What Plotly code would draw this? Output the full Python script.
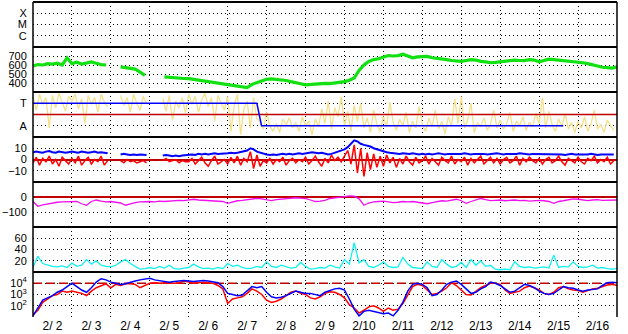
import plotly.graph_objects as go
from plotly.subplots import make_subplots

# ---------------- data ----------------
DAY_LABELS = ["2/ 2", "2/ 3", "2/ 4", "2/ 5", "2/ 6", "2/ 7", "2/ 8", "2/ 9",
              "2/10", "2/11", "2/12", "2/13", "2/14", "2/15", "2/16"]
XRAY_LABELS = ["C", "M", "X"]

# time grids in days since 2/2 00:00
t3 = [i * 0.125 for i in range(121)]      # 3-hourly
t2 = [i / 12 for i in range(180)]          # 2-hourly

speed = [590, 605, 600, 615, 610, 620, 600, 680,
         615, 630, 610, 625, 635, 620, 605, 600,
         None, None, 580, 570, 565, 555, 520, 485,
         None, None, None, 468, 462, 458, 455, 450,
         448, 440, 432, 425, 418, 405, 398, 390,
         380, 378, 372, 365, 350, 385, 405, 425,
         442, 445, 440, 435, 428, 415, 400, 392,
         380, 385, 390, 392, 395, 393, 400, 410,
         415, 430, 455, 540, 600, 640, 660, 670,
         690, 705, 700, 705, 720, 700, 680, 690,
         690, 695, 680, 675, 665, 660, 650, 645,
         640, 650, 660, 655, 640, 635, 625, 630,
         635, 640, 645, 655, 650, 648, 660, 655,
         635, 650, 665, 660, 655, 650, 645, 640,
         630, 625, 615, 600, 590, 575, 570, 565,
         580]

sector = [1.6, 0.4, 1.8, 0.9, 1.5, -1.2, 1.7, 0.6, 1.9, 1.0, 0.3, 1.6,
          1.2, 1.8, 0.5, 1.4, -0.8, 1.7, 0.9, 1.5, 0.2, 1.8, 1.1, 0.7,
          None, None, None,
          1.7, 0.8, 1.5, 0.2, 1.8, 1.0, 0.4, 1.6, 0.9,
          None, None, None, None,
          1.4, 0.3, 1.7, -0.5, 1.2, 0.6, 1.5, 0.1,
          1.8, 0.9, 1.6, 0.2, 1.3, 1.9, 0.7, 1.5, -0.6, 1.7, 1.0, 0.4,
          1.6, -1.5, 0.8, 1.8, -1.8, 0.5, 1.2, -1.2, 1.5, -0.4,
          -0.6, -1.3, 0.2, -1.0, -1.5, -0.8, -1.6, -0.4,
          -0.9, -0.3, -1.2, -0.7, -1.5, -0.2, -1.0, -0.6, -1.8, -0.4, -1.1, 0.5,
          -0.8, 1.2, -1.3, 0.6, -0.2, 1.6, -1.0, 0.3, -1.5, 0.8, -0.6, 1.0,
          -1.2, -0.3, -1.6, 0.4, -0.9, -1.5, -0.2, -1.1, 1.1, -0.7, -1.4, -0.4,
          -1.0, 0.2, -1.6, -0.6, -1.2, 0.7,
          -0.9, -1.5, -0.3, -1.1, 0.4, -1.3, -0.6, -1.7, -0.2, -1.0, 1.4, -0.8,
          1.6, -1.2, -0.5, 1.0, -1.6, -0.7, -1.1, -0.3, -1.4, -0.9, 0.4, -1.2,
          -0.5, -1.3, -0.8, 0.2, -1.5, -0.6, -1.0, -0.2, -1.4, -0.7, -1.1, 0.1,
          -0.8, 1.5, -1.2, 0.3, -0.9, -1.5, -0.4, -1.1, 0.1, -1.3, -0.7, -1.6,
          -0.6, -1.2, -0.2, -1.5, -0.8, 0.4, -1.3, -0.9, -1.6, -0.5, -1.0, -1.4]

state_t = [0, 5.75, 5.87, 13.62]
state_v = [1, 1, -1, -1]

bz = [-3, 2, -5, 1, -2, 3, -4, 0, -6, 2, -1, -4,
      1, -3, 3, -5, -1, 2, -4, 0, -2, 3, -5, -1,
      None, None, None,
      -1, -3, 0, -2, -1, -3, -2, -1, -3,
      None, None, None, None,
      -1, 1, -2, -1, 0, -3, -1, -2,
      -2, 1, -4, -1, 2, -3, -6, -1, 3, -4, -2, 0,
      -4, 2, -3, 3, -5, 1, -2, 7, -8, 4, -6, -1,
      -3, 1, -4, 0, -2, 2, -5, -1, 1, -3, 0, -2,
      2, -4, -1, 3, -2, -6, 1, -3, 4, -1, 2, -2,
      3, 8, -4, 13, -12, 10, -15, 6, -9, 5, -7, 3,
      -6, 4, -3, 2, -7, 1, -4, 3, -2, -5, 2, -3,
      -1, 3, -4, 1, -2, -5, 2, -1, -3, 3, -4, 0,
      -2, 2, -5, 1, -3, 0, 3, -4, -1, 2, -3, 1,
      -4, 0, 2, -3, -1, 3, -5, 1, -2, 2, -1, -3,
      1, -4, 0, 2, -3, -1, 3, -2, -5, 1, -1, -3,
      2, -2, -4, 1, -1, 3, -3, 0, -2, 2, -4, -1]

bt = [6.5, 7, 6.5, 6, 7, 7.5, 6.5, 6, 7, 6.5, 6, 6.5,
      7, 6.5, 6, 7, 6.5, 6, 6.5, 7, 6, 6.5, 6, 5.5,
      None, None, None,
      4.5, 5, 4.5, 4, 4.5, 4, 4.5, 4, 4,
      None, None, None, None,
      3.5, 4, 3.5, 3, 3.5, 3, 3.5, 4,
      4, 4.5, 4, 5, 4.5, 5, 4.5, 5, 5.5, 5, 5, 5.5,
      5.5, 6, 5.5, 6, 6.5, 7, 8, 10, 9, 7, 6, 5,
      4.5, 4, 4.5, 4, 4.5, 5, 4.5, 5, 4.5, 5, 5.5, 5,
      5.5, 6, 6.5, 6, 5.5, 6, 5, 4.5, 5, 6, 7, 8.5,
      9, 11, 14, 17, 16, 14, 13, 12.5, 11.5, 10, 9, 8,
      7, 6.5, 6, 5.5, 5.5, 5, 5.5, 5, 5, 5.5, 5, 4.5,
      5, 4.5, 5, 4.5, 5, 5.5, 5, 4.5, 5, 5, 4.5, 5,
      5, 5.5, 5, 4.5, 5, 5, 5.5, 5, 4.5, 5, 5, 5.5,
      5, 4.5, 5, 5, 4.5, 5, 5.5, 5, 4.5, 4.5, 5, 5,
      4.5, 5, 4.5, 5, 5, 4.5, 5, 4.5, 4, 4.5, 5, 4.5,
      4.5, 4, 4.5, 4.5, 5, 4.5, 4, 4.5, 4.5, 5, 4.5, 4.5]

dst = [-30, -62, -52, -45, -40, -35, -32, -30,
       -33, -30, -45, -55, -30, -20, -28, -32,
       -30, -35, -40, -55, -45, -38, -33, -30,
       -30, -32, -28, -30, -27, -25, -22, -24,
       -18, -15, -20, -22, -25, -22, -28, -30,
       -42, -32, -25, -23, -20, -15, -9, -12,
       -20, -24, -18, -15, -15, -10, -5, -8,
       -10, -20, -30, -28, -22, -10, -4, -2,
       3, 7, 5, -12, -55, -40, -32, -30,
       -28, -32, -38, -35, -30, -33, -30, -35,
       -40, -45, -38, -30, -25, -28, -22, -15,
       -25, -42, -30, -20, -10, -18, -24, -22,
       -20, -25, -22, -20, -24, -22, -28, -25,
       -22, -25, -30, -42, -30, -25, -18, -12,
       -15, -22, -24, -20, -18, -22, -20, -18,
       -20]

ae = [8, 28, 15, 12, 10, 9, 11, 8,
      16, 10, 12, 22, 14, 20, 12, 10,
      9, 12, 18, 22, 15, 10, 5, 6,
      8, 6, 10, 7, 12, 6, 5, 7,
      8, 14, 9, 6, 7, 5, 8, 6,
      15, 10, 12, 8, 6, 7, 10, 8,
      18, 10, 8, 12, 9, 7, 8, 17,
      10, 5, 6, 8, 7, 12, 9, 7,
      22, 14, 52, 16, 22, 10, 8, 12,
      18, 10, 8, 9, 26, 14, 8, 7,
      6, 18, 10, 8, 22, 14, 8, 10,
      17, 8, 22, 12, 20, 10, 12, 5,
      4, 5, 4, 18, 10, 8, 9, 7,
      8, 9, 7, 30, 8, 10, 9, 18,
      10, 8, 9, 12, 7, 8, 6, 5,
      6]

# electron flux, log10 of value
flux_blue_exp = [1.1, 1.8, 2.5, 2.7, 2.9, 3.2, 3.4, 3.7,
                 4.0, 3.7, 3.4, 3.2, 3.6, 4.1, 4.4, 4.3,
                 4.1, 4.0, 3.9, 3.95, 4.1, 4.2, 4.3, 4.4,
                 4.45, 4.3, 4.25, 4.15, 4.1, 4.15, 4.2, 4.25,
                 4.2, 4.15, 4.2, 4.25, 4.2, 4.15, 4.05, 3.7,
                 3.1, 3.0, 2.9, 2.95, 3.3, 3.7, 3.6, 3.7,
                 3.2, 2.8, 2.7, 2.75, 2.9, 3.1, 3.3, 3.2,
                 3.1, 3.1, 3.0, 2.9, 3.2, 3.35, 3.5, 3.55,
                 3.4, 2.6, 1.7, 1.1, 1.5, 1.6, 1.5, 1.4,
                 1.3, 1.35, 1.1, 1.6, 2.3, 3.3, 3.9, 4.0,
                 3.9, 3.6, 2.9, 3.0, 3.4, 3.9, 4.1, 4.2,
                 3.9, 3.5, 3.1, 3.2, 3.5, 3.7, 4.1, 4.0,
                 3.8, 3.5, 3.2, 3.3, 3.6, 3.9, 3.8, 3.6,
                 3.3, 3.1, 3.0, 3.1, 3.4, 3.7, 3.6, 3.55,
                 3.4, 3.3, 3.4, 3.45, 3.5, 3.8, 4.05, 4.1,
                 4.05]
flux_red_exp = [1.2, 1.6, 2.3, 2.6, 2.9, 3.0, 3.3, 3.2,
                3.3, 3.2, 3.1, 2.9, 3.3, 3.6, 3.8, 3.95,
                3.6, 3.9, 3.8, 3.95, 3.95, 3.9, 3.6, 3.8,
                4.0, 4.05, 4.0, 4.05, 4.0, 4.0, 4.05, 4.2,
                4.1, 4.0, 4.05, 4.1, 4.05, 4.0, 3.8, 3.5,
                2.2, 2.6, 2.7, 2.8, 3.1, 3.5, 3.3, 3.0,
                2.5, 2.3, 2.4, 2.6, 2.9, 3.2, 3.3, 3.1,
                3.0, 2.7, 2.6, 2.8, 3.1, 3.25, 3.2, 3.0,
                2.7, 2.1, 1.8, 1.35, 1.6, 1.9, 2.0, 1.8,
                1.5, 1.8, 1.6, 1.7, 2.2, 3.0, 3.7, 3.9,
                3.8, 3.4, 3.0, 3.1, 3.3, 3.6, 4.05, 3.8,
                3.4, 3.0, 2.95, 3.3, 3.6, 3.8, 4.0, 4.0,
                3.9, 3.4, 3.1, 3.2, 3.3, 3.6, 3.75, 3.6,
                3.4, 3.1, 3.0, 3.2, 3.6, 3.7, 3.5, 3.4,
                3.35, 3.2, 3.35, 3.5, 3.55, 3.7, 3.85, 3.9,
                3.8]

flux_blue = [10 ** v for v in flux_blue_exp]
flux_red = [10 ** v for v in flux_red_exp]

# ---------------- styles ----------------
FONT = "Liberation Sans"
DOT = "1px,3px"
DARKRED = "#C00000"
GREEN = "#11E011"
BLUE = "#0000FF"
RED = "#FF0000"
YELLOW = "#F6E08C"
MAGENTA = "#F010F0"
CYAN = "#10F0F0"

fig = make_subplots(rows=7, cols=1, shared_xaxes=True, vertical_spacing=0)

# row 1: X-ray class (no data in this interval)
fig.add_trace(go.Scatter(x=[], y=[], mode="lines"), row=1, col=1)
# row 2: speed
fig.add_trace(go.Scatter(x=t3, y=speed, mode="lines", line=dict(color=GREEN, width=3.2)), row=2, col=1)
# row 3: sector
fig.add_trace(go.Scatter(x=t2, y=sector, mode="lines", line=dict(color=YELLOW, width=1.3)), row=3, col=1)
fig.add_trace(go.Scatter(x=[0, 15], y=[0, 0], mode="lines", line=dict(color=DARKRED, width=1.5)), row=3, col=1)
fig.add_trace(go.Scatter(x=state_t, y=state_v, mode="lines", line=dict(color=BLUE, width=1.5)), row=3, col=1)
# row 4: IMF
fig.add_trace(go.Scatter(x=t2, y=bt, mode="lines", line=dict(color=BLUE, width=2)), row=4, col=1)
fig.add_trace(go.Scatter(x=t2, y=bz, mode="lines", line=dict(color=RED, width=1.5)), row=4, col=1)
# row 5: Dst
fig.add_trace(go.Scatter(x=t3, y=dst, mode="lines", line=dict(color=MAGENTA, width=1.3)), row=5, col=1)
# row 6: index
fig.add_trace(go.Scatter(x=t3, y=ae, mode="lines", line=dict(color=CYAN, width=1.3)), row=6, col=1)
# row 7: electron flux
fig.add_trace(go.Scatter(x=[0, 15], y=[1e4, 1e4], mode="lines",
                         line=dict(color=DARKRED, width=1.5, dash="9px,4px")), row=7, col=1)
fig.add_trace(go.Scatter(x=t3, y=flux_red, mode="lines", line=dict(color=RED, width=1.5)), row=7, col=1)
fig.add_trace(go.Scatter(x=t3, y=flux_blue, mode="lines", line=dict(color=BLUE, width=1.5)), row=7, col=1)

yconf = {
    1: dict(range=[0, 4], tickvals=[1, 2, 3], ticktext=XRAY_LABELS),
    2: dict(range=[300, 800], tickvals=[400, 500, 600, 700]),
    3: dict(range=[-2, 2], tickvals=[-1, 1], ticktext=["A", "T"]),
    4: dict(range=[-20, 20], tickvals=[-10, 0, 10], zeroline=True,
            zerolinecolor=DARKRED, zerolinewidth=1.5),
    5: dict(range=[-200, 100], tickvals=[-100, 0], zeroline=True,
            zerolinecolor=DARKRED, zerolinewidth=1.5),
    6: dict(range=[0, 80], tickvals=[20, 40, 60]),
    7: dict(type="log", range=[1, 5], tickvals=[1e2, 1e3, 1e4],
            ticktext=["10<sup>2</sup>", "10<sup>3</sup>", "10<sup>4</sup>"]),
}
for r in range(1, 8):
    c = dict(tickmode="array", showgrid=True, gridcolor="black", griddash=DOT,
             gridwidth=1, zeroline=False, showline=False, ticks="outside",
             ticklen=3, tickcolor="rgba(0,0,0,0)", fixedrange=True,
             tickfont=dict(family=FONT, size=11, color="black"))
    c.update(yconf[r])
    fig.update_yaxes(row=r, col=1, **c)
    fig.update_xaxes(row=r, col=1, range=[0, 15], tickmode="array",
                     tickvals=[i + 0.5 for i in range(15)], ticktext=DAY_LABELS,
                     showgrid=False, zeroline=False, showline=False, ticks="",
                     tickfont=dict(family=FONT, size=12, color="black"),
                     minor=dict(tick0=0, dtick=1, showgrid=True, gridcolor="black",
                                griddash=DOT, gridwidth=1, ticks=""))

shapes = []
for k in range(1, 8):
    shapes.append(dict(type="line", xref="paper", yref="paper", x0=0, x1=1,
                       y0=k / 7, y1=k / 7, line=dict(color="black", width=2)))
for xv in (0, 1):
    shapes.append(dict(type="line", xref="paper", yref="paper", x0=xv, x1=xv,
                       y0=0, y1=1, line=dict(color="black", width=1.5)))

fig.update_layout(
    width=628, height=334,
    margin=dict(l=33, r=11, t=2, b=17),
    paper_bgcolor="white", plot_bgcolor="white",
    showlegend=False,
    font=dict(family=FONT, size=12, color="black"),
    shapes=shapes,
)

fig.write_html("out.html", config={"displayModeBar": False})
